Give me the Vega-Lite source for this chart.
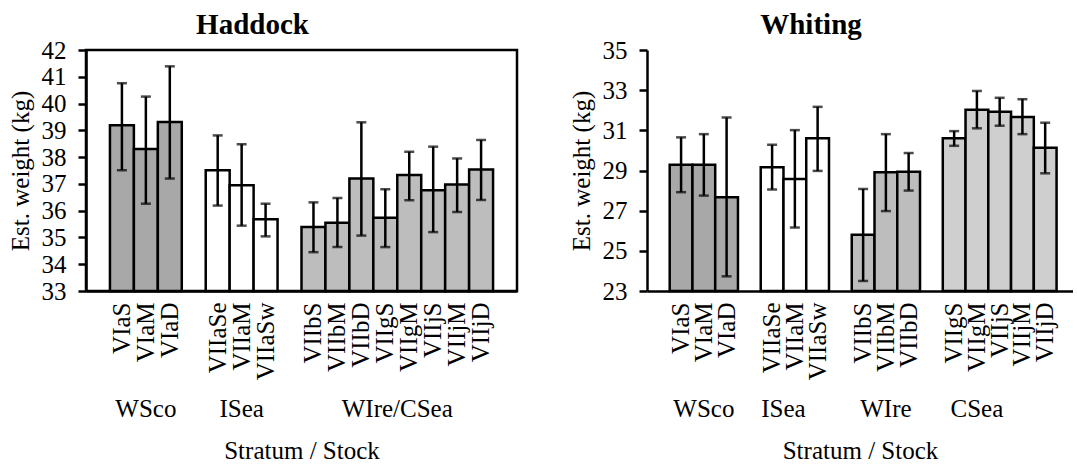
{
  "$schema": "https://vega.github.io/schema/vega-lite/v6.json",
  "padding": {"left": 6, "top": 9, "right": 0, "bottom": 0},
  "background": "white",
  "spacing": 50,
  "config": {
    "font": "Liberation Serif",
    "view": {"stroke": null},
    "title": {"font": "Liberation Serif", "fontSize": 29, "fontWeight": "bold", "color": "black", "offset": -2, "dx": -49},
    "axis": {
      "labelFont": "Liberation Serif", "titleFont": "Liberation Serif",
      "labelFontSize": 25, "titleFontSize": 25, "titleFontWeight": "normal",
      "labelColor": "black", "titleColor": "black",
      "domainColor": "black", "domainWidth": 2.5,
      "tickColor": "black", "tickWidth": 2.5, "grid": false, "labelOverlap": false
    },
    "axisY": {"tickSize": 8, "labelPadding": 12, "titlePadding": 8, "labelFlush": false, "labelOverlap": false},
    "axisX": {"ticks": false, "tickSize": 0, "labelAngle": 270, "labelAlign": "right", "labelBaseline": "middle", "labelPadding": 11, "titlePadding": 59}
  },
  "datasets": {
    "haddock": [
      {"stratum": "VIaS", "grp": "WSco", "mean": 39.19, "lo": 37.51, "hi": 40.76},
      {"stratum": "VIaM", "grp": "WSco", "mean": 38.30, "lo": 36.26, "hi": 40.26},
      {"stratum": "VIaD", "grp": "WSco", "mean": 39.31, "lo": 37.2, "hi": 41.39},
      {"stratum": "VIIaSe", "grp": "ISea", "mean": 37.51, "lo": 36.19, "hi": 38.81},
      {"stratum": "VIIaM", "grp": "ISea", "mean": 36.95, "lo": 35.44, "hi": 38.48},
      {"stratum": "VIIaSw", "grp": "ISea", "mean": 35.68, "lo": 35.04, "hi": 36.26},
      {"stratum": "VIIbS", "grp": "WIre", "mean": 35.39, "lo": 34.45, "hi": 36.31},
      {"stratum": "VIIbM", "grp": "WIre", "mean": 35.55, "lo": 34.64, "hi": 36.47},
      {"stratum": "VIIbD", "grp": "WIre", "mean": 37.2, "lo": 35.07, "hi": 39.3},
      {"stratum": "VIIgS", "grp": "WIre", "mean": 35.74, "lo": 34.64, "hi": 36.8},
      {"stratum": "VIIgM", "grp": "WIre", "mean": 37.33, "lo": 36.39, "hi": 38.2},
      {"stratum": "VIIjS", "grp": "WIre", "mean": 36.76, "lo": 35.2, "hi": 38.39},
      {"stratum": "VIIjM", "grp": "WIre", "mean": 36.98, "lo": 35.95, "hi": 37.95},
      {"stratum": "VIIjD", "grp": "WIre", "mean": 37.54, "lo": 36.4, "hi": 38.64}
    ],
    "whiting": [
      {"stratum": "VIaS", "grp": "WSco", "mean": 29.29, "lo": 27.92, "hi": 30.65},
      {"stratum": "VIaM", "grp": "WSco", "mean": 29.29, "lo": 27.75, "hi": 30.81},
      {"stratum": "VIaD", "grp": "WSco", "mean": 27.67, "lo": 23.73, "hi": 31.64},
      {"stratum": "VIIaSe", "grp": "ISea", "mean": 29.16, "lo": 28.05, "hi": 30.28},
      {"stratum": "VIIaM", "grp": "ISea", "mean": 28.58, "lo": 26.16, "hi": 31.01},
      {"stratum": "VIIaSw", "grp": "ISea", "mean": 30.60, "lo": 28.98, "hi": 32.17},
      {"stratum": "VIIbS", "grp": "WIre", "mean": 25.80, "lo": 23.5, "hi": 28.08},
      {"stratum": "VIIbM", "grp": "WIre", "mean": 28.91, "lo": 26.98, "hi": 30.81},
      {"stratum": "VIIbD", "grp": "WIre", "mean": 28.94, "lo": 28.0, "hi": 29.87},
      {"stratum": "VIIgS", "grp": "CSea", "mean": 30.60, "lo": 30.23, "hi": 30.96},
      {"stratum": "VIIgM", "grp": "CSea", "mean": 32.02, "lo": 31.1, "hi": 32.96},
      {"stratum": "VIIjS", "grp": "CSea", "mean": 31.92, "lo": 31.23, "hi": 32.62},
      {"stratum": "VIIjM", "grp": "CSea", "mean": 31.67, "lo": 30.81, "hi": 32.55},
      {"stratum": "VIIjD", "grp": "CSea", "mean": 30.13, "lo": 28.86, "hi": 31.38}
    ]
  },
  "hconcat": [
    {
      "width": 431, "height": 241,
      "title": "Haddock",
      "view": {"stroke": "black", "strokeWidth": 2.5},
      "encoding": {
        "x": {
          "field": "stratum", "type": "nominal", "title": "Stratum / Stock",
          "scale": {"domain": ["VIaS","VIaM","VIaD"," ","VIIaSe","VIIaM","VIIaSw","  ","VIIbS","VIIbM","VIIbD","VIIgS","VIIgM","VIIjS","VIIjM","VIIjD"], "paddingInner": 0, "paddingOuter": 1}
        },
        "y": {"type": "quantitative", "title": "Est. weight (kg)", "scale": {"domain": [33, 42], "zero": false, "nice": false},
              "axis": {"tickCount": 9, "labelOverlap": false, "labelFlush": false, "labelFont": "Liberation Serif", "labelFontSize": 25, "titleFont": "Liberation Serif", "titleFontSize": 25, "titleFontWeight": "normal"}}
      },
      "layer": [
        {
          "data": {"name": "haddock"},
          "mark": {"type": "bar", "stroke": "black", "strokeWidth": 2.5},
          "encoding": {
            "y": {"field": "mean"},
            "y2": {"datum": 33},
            "fill": {"field": "grp", "type": "nominal", "legend": null, "scale": {"domain": ["WSco","ISea","WIre","CSea"], "range": ["#a8a8a8","#ffffff","#bdbdbd","#cfcfcf"]}}
          }
        },
        {
          "data": {"name": "haddock"},
          "mark": {"type": "rule", "color": "black", "strokeWidth": 2.5},
          "encoding": {"y": {"field": "lo"}, "y2": {"field": "hi"}}
        },
        {
          "data": {"name": "haddock"},
          "mark": {"type": "tick", "color": "black", "thickness": 2.5, "size": 10, "orient": "horizontal"},
          "encoding": {"y": {"field": "hi"}}
        },
        {
          "data": {"name": "haddock"},
          "mark": {"type": "tick", "color": "black", "thickness": 2.5, "size": 10, "orient": "horizontal"},
          "encoding": {"y": {"field": "lo"}}
        },
        {
          "data": {"values": [{"stratum": "VIaM", "label": "WSco"}, {"stratum": "VIIaM", "label": "ISea"}]},
          "mark": {"type": "text", "fontSize": 25, "font": "Liberation Serif", "baseline": "alphabetic", "dy": 126, "color": "black"},
          "encoding": {"y": {"datum": 33}, "text": {"field": "label"}}
        },
        {
          "data": {"values": [{"stratum": "VIIgM", "label": "WIre/CSea"}]},
          "mark": {"type": "text", "fontSize": 25, "font": "Liberation Serif", "baseline": "alphabetic", "dy": 126, "color": "black"},
          "encoding": {"x": {"field": "stratum", "type": "nominal", "bandPosition": 0}, "y": {"datum": 33}, "text": {"field": "label"}}
        }
      ]
    },
    {
      "width": 426, "height": 241,
      "title": "Whiting",
      "encoding": {
        "x": {
          "field": "stratum", "type": "nominal", "title": "Stratum / Stock",
          "scale": {"domain": ["VIaS","VIaM","VIaD"," ","VIIaSe","VIIaM","VIIaSw","  ","VIIbS","VIIbM","VIIbD","   ","VIIgS","VIIgM","VIIjS","VIIjM","VIIjD"], "paddingInner": 0, "paddingOuter": 0.86, "align": 0.58}
        },
        "y": {"type": "quantitative", "title": "Est. weight (kg)", "scale": {"domain": [23, 35], "zero": false, "nice": false},
              "axis": {"values": [23,25,27,29,31,33,35], "labelOverlap": false, "labelFlush": false, "labelFont": "Liberation Serif", "labelFontSize": 25, "titleFont": "Liberation Serif", "titleFontSize": 25, "titleFontWeight": "normal"}}
      },
      "layer": [
        {
          "data": {"name": "whiting"},
          "mark": {"type": "bar", "stroke": "black", "strokeWidth": 2.5},
          "encoding": {
            "y": {"field": "mean"},
            "y2": {"datum": 23},
            "fill": {"field": "grp", "type": "nominal", "legend": null, "scale": {"domain": ["WSco","ISea","WIre","CSea"], "range": ["#a8a8a8","#ffffff","#bdbdbd","#cfcfcf"]}}
          }
        },
        {
          "data": {"name": "whiting"},
          "mark": {"type": "rule", "color": "black", "strokeWidth": 2.5},
          "encoding": {"y": {"field": "lo"}, "y2": {"field": "hi"}}
        },
        {
          "data": {"name": "whiting"},
          "mark": {"type": "tick", "color": "black", "thickness": 2.5, "size": 10, "orient": "horizontal"},
          "encoding": {"y": {"field": "hi"}}
        },
        {
          "data": {"name": "whiting"},
          "mark": {"type": "tick", "color": "black", "thickness": 2.5, "size": 10, "orient": "horizontal"},
          "encoding": {"y": {"field": "lo"}}
        },
        {
          "data": {"values": [{"stratum": "VIaM", "label": "WSco"}, {"stratum": "VIIbM", "label": "WIre"}, {"stratum": "VIIgM", "label": "CSea"}]},
          "mark": {"type": "text", "fontSize": 25, "font": "Liberation Serif", "baseline": "alphabetic", "dy": 126, "color": "black"},
          "encoding": {"y": {"datum": 23}, "text": {"field": "label"}}
        },
        {
          "data": {"values": [{"stratum": "VIIaM", "label": "ISea"}]},
          "mark": {"type": "text", "fontSize": 25, "font": "Liberation Serif", "baseline": "alphabetic", "dy": 126, "color": "black"},
          "encoding": {"x": {"field": "stratum", "type": "nominal", "bandPosition": 0}, "y": {"datum": 23}, "text": {"field": "label"}}
        },
        {
          "mark": {"type": "rule", "color": "black", "strokeWidth": 2.5},
          "encoding": {"y": {"datum": 35}}
        }
      ]
    }
  ]
}
